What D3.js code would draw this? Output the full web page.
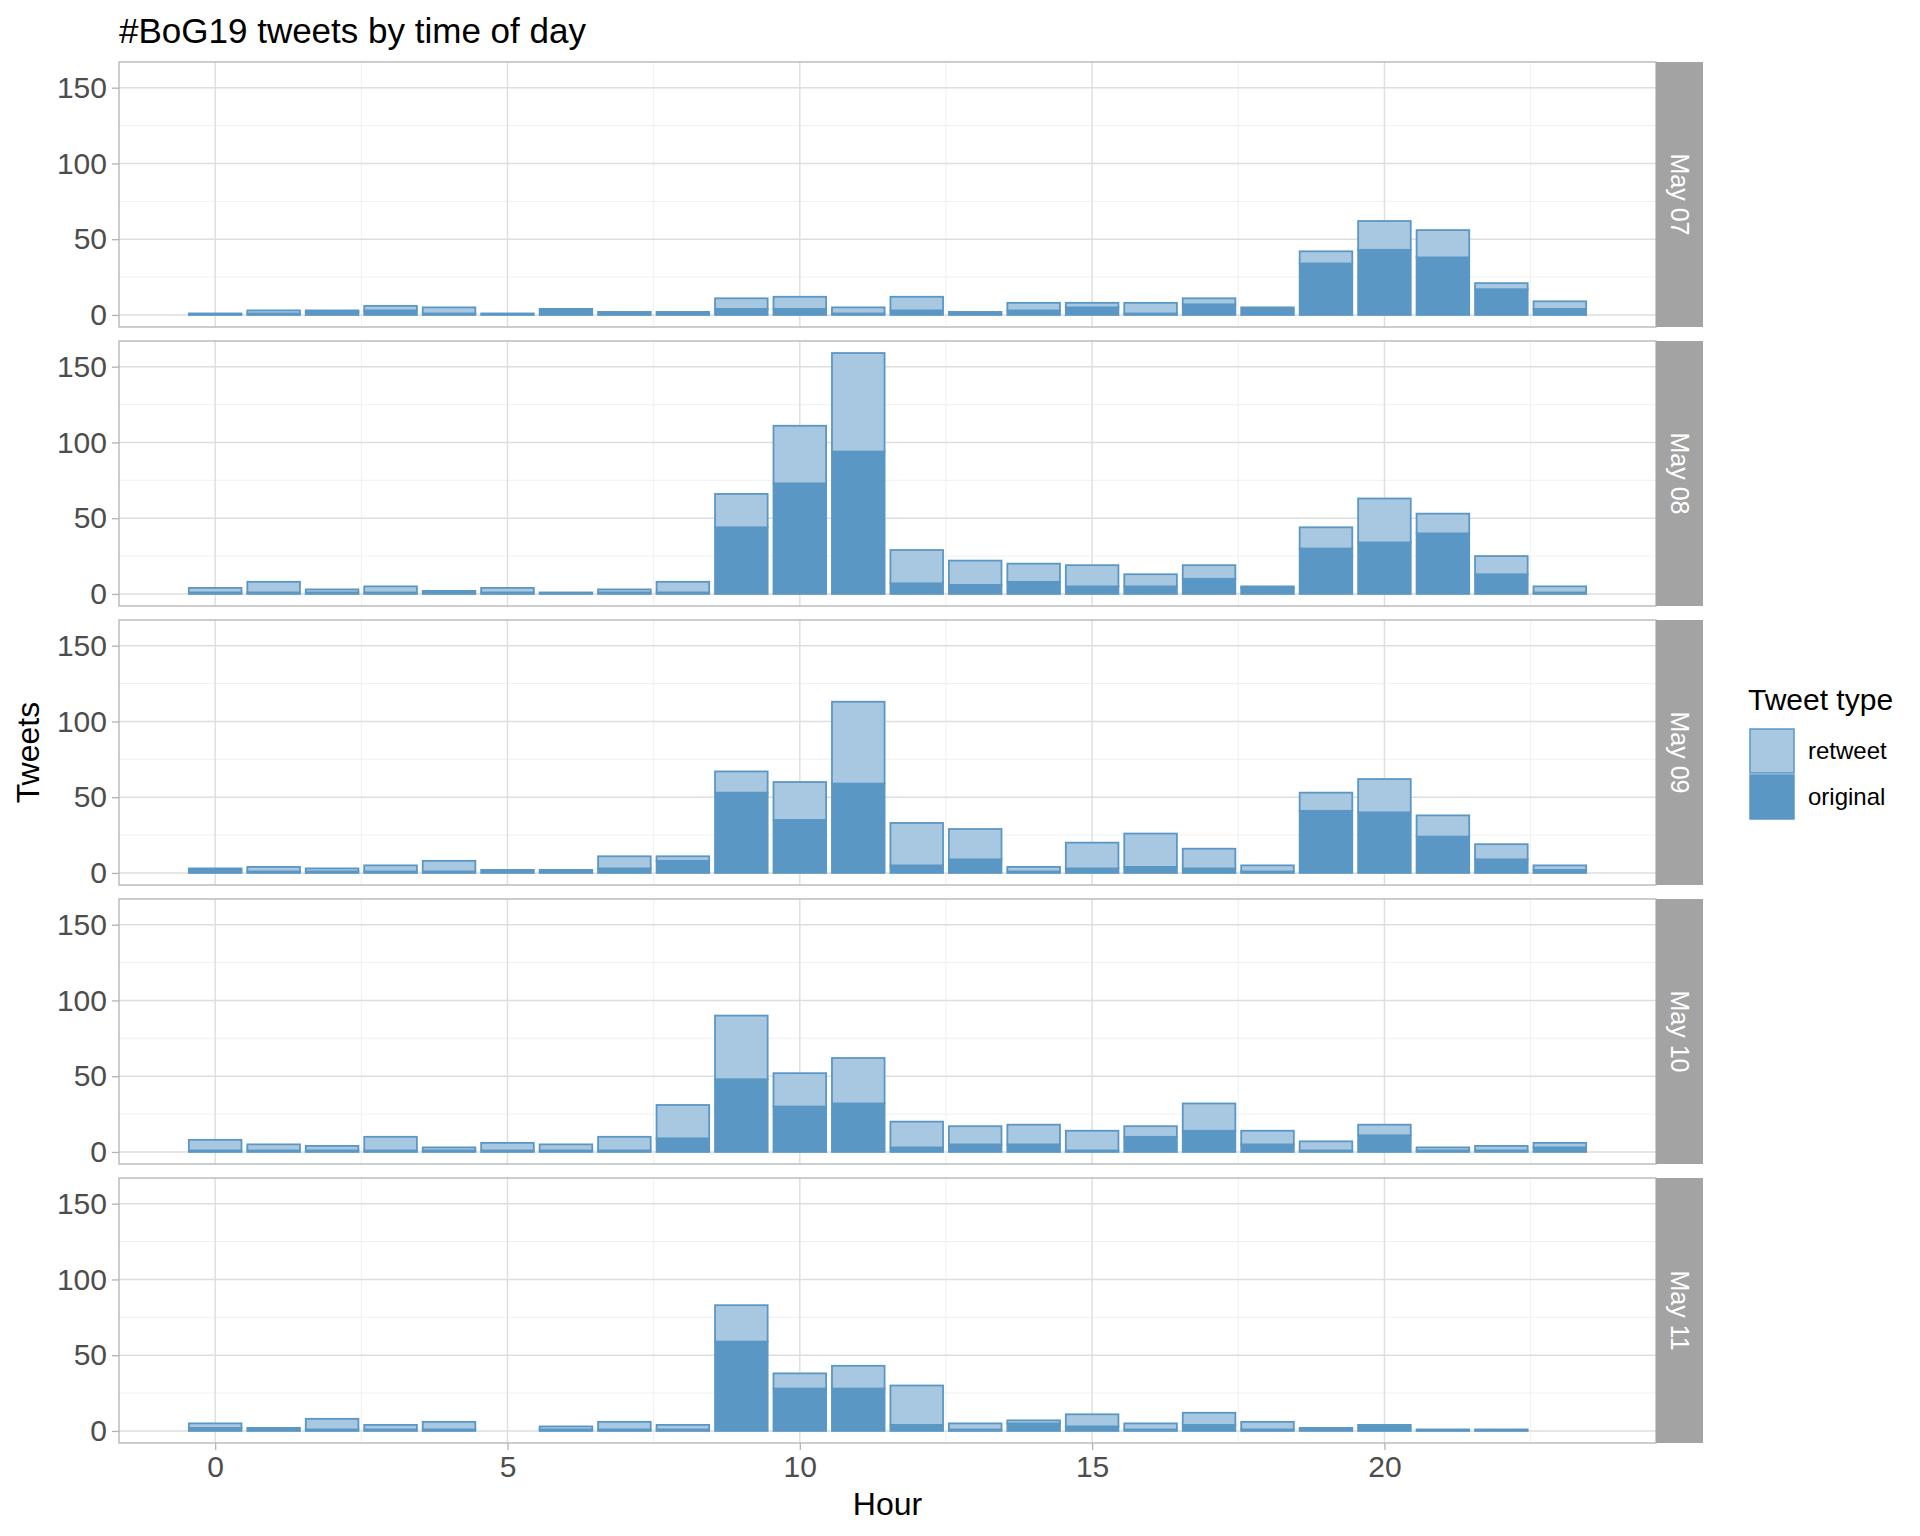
<!DOCTYPE html>
<html><head><meta charset="utf-8">
<script src="https://cdn.jsdelivr.net/npm/d3@7"></script>
<style>body{margin:0;background:#fff}text{font-family:"Liberation Sans",Arial,sans-serif}</style>
</head><body>
<svg id="c" width="1920" height="1536"></svg>
<script>
const hours = [0,1,2,3,4,5,6,7,8,9,10,11,12,13,14,15,16,17,18,19,20,21,22,23];
const days = ["May 07","May 08","May 09","May 10","May 11"];
const tweetTypes = ["retweet","original"];
const original07 = [1,1,2,3,1,1,4,2,2,4,4,1,3,2,3,5,1,7,5,34,43,38,17,4];
const retweet07  = [0,2,1,3,4,0,0,0,0,7,8,4,9,0,5,3,7,4,0,8,19,18,4,5];
const original08 = [1,1,1,1,2,1,1,1,1,44,73,94,7,6,8,5,5,10,4,30,34,40,13,1];
const retweet08  = [3,7,2,4,0,3,0,2,7,22,38,65,22,16,12,14,8,9,1,14,29,13,12,4];
const original09 = [2,1,1,1,1,2,2,3,8,53,35,59,5,9,1,3,4,3,1,41,40,24,9,2];
const retweet09  = [1,3,2,4,7,0,0,8,3,14,25,54,28,20,3,17,22,13,4,12,22,14,10,3];
const original10 = [1,1,1,1,1,1,1,1,9,48,30,32,3,5,5,1,10,14,5,1,11,1,1,3];
const retweet10  = [7,4,3,9,2,5,4,9,22,42,22,30,17,12,13,13,7,18,9,6,7,2,3,3];
const original11 = [2,2,1,1,1,0,1,1,1,59,28,28,4,1,5,3,1,4,1,2,4,1,1,0];
const retweet11  = [3,0,7,3,5,0,2,5,3,24,10,15,26,4,2,8,4,8,5,0,0,0,0,0];
const yTicks = [0,50,100,150];
const xTicks = [0,5,10,15,20];

const originals = [original07,original08,original09,original10,original11];
const retweets = [retweet07,retweet08,retweet09,retweet10,retweet11];

const svg = d3.select("#c");
const colOrig = "#5b97c4", colRt = "#a8c8e2";
const L = 119, R = 1656, T0 = 62, PH = 265, STEP = 279;
const x = d3.scaleLinear().domain([-1.645, 24.645]).range([L, R]);
const maxV = d3.max(days.map((d,i)=>d3.max(hours.map((h,j)=>originals[i][j]+retweets[i][j]))));
const yExp = maxV*0.05;

// title
svg.append("text").attr("x", L).attr("y", 43).attr("font-size", 35).attr("fill","#000").text("#BoG19 tweets by time of day");

days.forEach((day, i) => {
  const top = T0 + i*STEP;
  const y = d3.scaleLinear().domain([-yExp, maxV + yExp]).range([top+PH, top]);
  const g = svg.append("g");
  const yMinor = [25,75,125];
  const xMinor = [2.5,7.5,12.5,17.5,22.5];
  g.selectAll(".ym").data(yMinor).join("line").attr("x1",L).attr("x2",R).attr("y1",d=>y(d)).attr("y2",d=>y(d)).attr("stroke","#ececec").attr("stroke-width",0.8);
  g.selectAll(".xm").data(xMinor).join("line").attr("y1",top).attr("y2",top+PH).attr("x1",d=>x(d)).attr("x2",d=>x(d)).attr("stroke","#ececec").attr("stroke-width",0.8);
  g.selectAll(".yM").data(yTicks).join("line").attr("x1",L).attr("x2",R).attr("y1",d=>y(d)).attr("y2",d=>y(d)).attr("stroke","#dedede").attr("stroke-width",1.4);
  g.selectAll(".xM").data(xTicks).join("line").attr("y1",top).attr("y2",top+PH).attr("x1",d=>x(d)).attr("x2",d=>x(d)).attr("stroke","#dedede").attr("stroke-width",1.4);

  const rows = hours.map((h,j)=>({h, o: originals[i][j], r: retweets[i][j]}));
  const bw = 0.9;
  g.selectAll(".bo").data(rows.filter(d=>d.o>0)).join("rect")
    .attr("x", d=>x(d.h-bw/2)).attr("width", d=>x(d.h+bw/2)-x(d.h-bw/2))
    .attr("y", d=>y(d.o)).attr("height", d=>y(0)-y(d.o))
    .attr("fill", colOrig).attr("stroke", colOrig).attr("stroke-width", 1.8);
  g.selectAll(".br").data(rows.filter(d=>d.r>0)).join("rect")
    .attr("x", d=>x(d.h-bw/2)).attr("width", d=>x(d.h+bw/2)-x(d.h-bw/2))
    .attr("y", d=>y(d.o+d.r)).attr("height", d=>y(d.o)-y(d.o+d.r))
    .attr("fill", colRt).attr("stroke", colOrig).attr("stroke-width", 1.8);

  g.append("rect").attr("x",L).attr("y",top).attr("width",R-L).attr("height",PH).attr("fill","none").attr("stroke","#b3b3b3").attr("stroke-width",1.3);

  const ya = svg.append("g").attr("transform",`translate(${L},0)`).call(d3.axisLeft(y).tickValues(yTicks).tickSize(7).tickPadding(5));
  ya.select(".domain").remove();
  ya.selectAll("line").attr("stroke","#b3b3b3").attr("stroke-width",1.3);
  ya.selectAll("text").attr("font-size",30).attr("fill","#4d4d4d").attr("font-family","Liberation Sans, Arial, sans-serif");

  svg.append("rect").attr("x",R).attr("y",top).attr("width",47).attr("height",PH).attr("fill","#a3a3a3");
  svg.append("text").attr("transform",`translate(${R+23.5},${top+PH/2}) rotate(90)`).attr("text-anchor","middle").attr("dy","0.35em")
    .attr("font-size",25).attr("fill","#ffffff").text(day);

  if (i === days.length-1) {
    const xa = svg.append("g").attr("transform",`translate(0,${top+PH})`).call(d3.axisBottom(x).tickValues(xTicks).tickSize(7).tickPadding(6));
    xa.select(".domain").remove();
    xa.selectAll("line").attr("stroke","#b3b3b3").attr("stroke-width",1.3);
    xa.selectAll("text").attr("font-size",30).attr("fill","#4d4d4d").attr("font-family","Liberation Sans, Arial, sans-serif");
  }
});

svg.append("text").attr("x",(L+R)/2).attr("y",1515).attr("text-anchor","middle").attr("font-size",32).attr("fill","#000").text("Hour");
svg.append("text").attr("transform",`translate(39,${T0 + (4*STEP+PH)/2}) rotate(-90)`).attr("text-anchor","middle").attr("font-size",32).attr("fill","#000").text("Tweets");

const lg = svg.append("g");
lg.append("text").attr("x",1748).attr("y",710).attr("font-size",30).attr("fill","#000").text("Tweet type");
const keyCols = {retweet: colRt, original: colOrig};
tweetTypes.forEach((t,k)=>{
  lg.append("rect").attr("x",1750).attr("y",729+k*46).attr("width",44).attr("height",44).attr("fill",keyCols[t]).attr("stroke",colOrig).attr("stroke-width",1.5);
  lg.append("text").attr("x",1808).attr("y",751+k*46).attr("dy","0.35em").attr("font-size",24).attr("fill","#000").text(t);
});
</script>
</body></html>
